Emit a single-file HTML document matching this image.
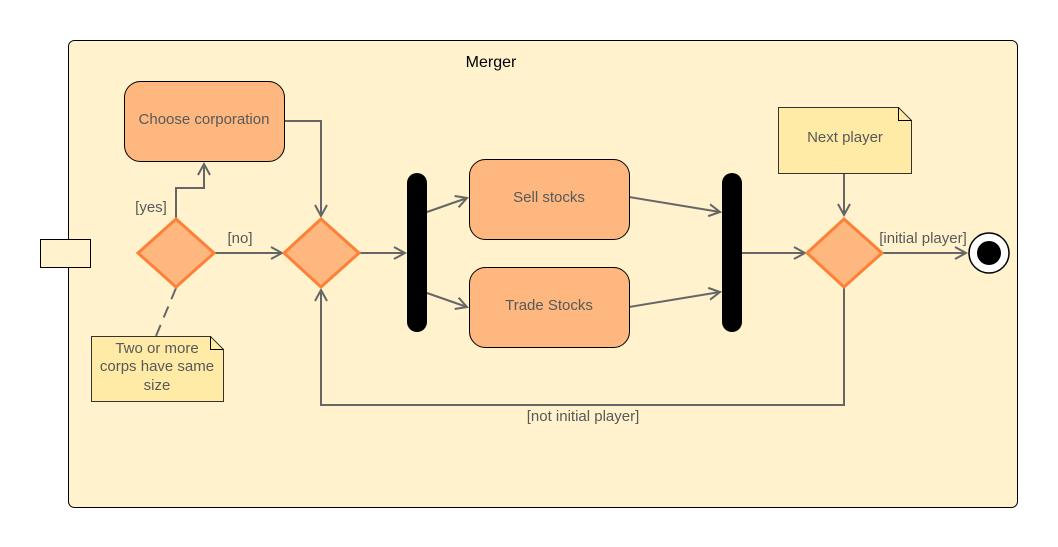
<!DOCTYPE html>
<html><head><style>body{margin:0;background:#fff}svg{display:block}text{font-family:"Liberation Sans",sans-serif;font-size:15px;fill:#595959}</style></head><body>
<svg width="1058" height="547" viewBox="0 0 1058 547">
<defs><marker id="a" markerWidth="14" markerHeight="14" refX="12" refY="7" orient="auto" markerUnits="userSpaceOnUse"><path d="M1,1 L12,7 L1,13" fill="none" stroke="#666" stroke-width="2"/></marker></defs>
<rect x="68.5" y="40.5" width="949" height="467" rx="6" fill="#fff2cc" stroke="#000"/>
<text x="491" y="67" text-anchor="middle" style="font-size:16px;fill:#000">Merger</text>
<rect x="40.5" y="239.5" width="50" height="28" fill="#fff2cc" stroke="#000"/>
<g fill="none" stroke="#666" stroke-width="2">
<path d="M176,218 V188 H204 V164" marker-end="url(#a)"/>
<path d="M285,121 H321 V216" marker-end="url(#a)"/>
<path d="M214,253 H282" marker-end="url(#a)"/>
<path d="M360,253 H405" marker-end="url(#a)"/>
<path d="M427,212 L467,198" marker-end="url(#a)"/>
<path d="M427,293 L467,307" marker-end="url(#a)"/>
<path d="M629,197 L720,212" marker-end="url(#a)"/>
<path d="M629,307 L720,292" marker-end="url(#a)"/>
<path d="M742,253 H805" marker-end="url(#a)"/>
<path d="M844,173 V215" marker-end="url(#a)"/>
<path d="M883,253 H966" marker-end="url(#a)"/>
<path d="M844,288 V405 H321 V290" marker-end="url(#a)"/>
<path d="M176,288 L156,336" stroke-dasharray="12,8"/>
</g>
<rect x="124.5" y="81.5" width="160" height="80" rx="16" fill="#fdb77f" stroke="#000"/>
<text x="204" y="124" text-anchor="middle">Choose corporation</text>
<rect x="469.5" y="159.5" width="160" height="80" rx="16" fill="#fdb77f" stroke="#000"/>
<text x="549" y="202" text-anchor="middle">Sell stocks</text>
<rect x="469.5" y="267.5" width="160" height="80" rx="16" fill="#fdb77f" stroke="#000"/>
<text x="549" y="310" text-anchor="middle">Trade Stocks</text>
<g fill="#fdb77f" stroke="#fd8037" stroke-width="3">
<path d="M176,219 L214,253 L176,287 L138,253Z"/>
<path d="M321,219 L359,253 L321,287 L284,253Z"/>
<path d="M844,219 L882,253 L844,287 L807,253Z"/>
</g>
<rect x="407" y="173" width="20" height="159" rx="10" fill="#000"/>
<rect x="722" y="173" width="20" height="159" rx="10" fill="#000"/>
<circle cx="989" cy="253" r="20" fill="#fff" stroke="#000" stroke-width="1.5"/>
<circle cx="989" cy="253" r="12" fill="#000"/>
<path d="M778.5,107.5 H898.5 L911.5,120.5 V173.5 H778.5Z" fill="#ffeaa6" stroke="#333"/>
<path d="M898.5,107.5 V120.5 H911.5" fill="none" stroke="#000"/>
<text x="845" y="142" text-anchor="middle">Next player</text>
<path d="M91.5,336.5 H210.5 L223.5,349.5 V401.5 H91.5Z" fill="#ffeaa6" stroke="#333"/>
<path d="M210.5,336.5 V349.5 H223.5" fill="none" stroke="#000"/>
<text x="157" y="353" text-anchor="middle">Two or more</text>
<text x="157" y="371" text-anchor="middle">corps have same</text>
<text x="157" y="390" text-anchor="middle">size</text>
<text x="151" y="212" text-anchor="middle">[yes]</text>
<text x="240" y="243" text-anchor="middle">[no]</text>
<text x="923" y="243" text-anchor="middle">[initial player]</text>
<text x="583" y="421" text-anchor="middle">[not initial player]</text>
</svg></body></html>
